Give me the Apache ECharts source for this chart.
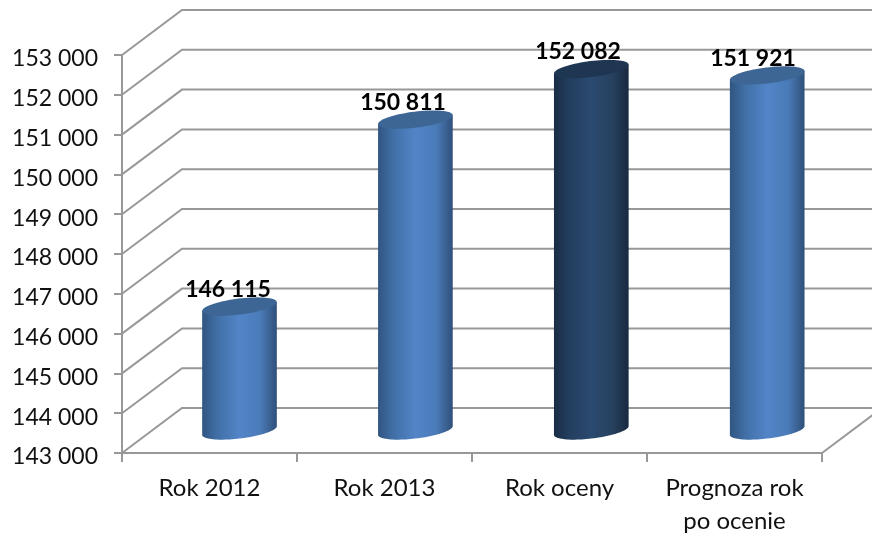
<!DOCTYPE html>
<html>
<head>
<meta charset="utf-8">
<style>html,body{margin:0;padding:0;background:#fff}#c{width:872px;height:533px}</style>
<script src="https://cdn.jsdelivr.net/npm/echarts@6/dist/echarts.min.js"></script>
</head>
<body>
<div id="c"></div>
<script>
const categories = ['Rok 2012', 'Rok 2013', 'Rok oceny', 'Prognoza rok\npo ocenie'];
const values = [146115, 150811, 152082, 151921];
const yTicks = [143000, 144000, 145000, 146000, 147000, 148000, 149000, 150000, 151000, 152000, 153000];
const darkIndex = 2;

const DEPTH_X = 60, DEPTH_Y = 45, RX = 37.6, RY = 8, TILT = -7 * Math.PI / 180, SPREAD = 0.9;
const LINE = '#989898', FONT = 'Lato';
const fmt = v => String(v).replace(/\B(?=(\d{3})+$)/g, ' ');

const blue = ['#305581', '#4271a9', '#5285c8', '#4a7bb8', '#2f5079'];
const navy = ['#192c46', '#233f60', '#2b4a70', '#27415f', '#18293f'];
const grad = c => new echarts.graphic.LinearGradient(0, 0, 1, 0, [
  {offset: 0, color: c[0]}, {offset: .22, color: c[1]}, {offset: .5, color: c[2]},
  {offset: .78, color: c[3]}, {offset: 1, color: c[4]}]);

const pt = (c, t) => [
  c[0] + RX * Math.cos(t) * Math.cos(TILT) - RY * Math.sin(t) * Math.sin(TILT),
  c[1] + RX * Math.cos(t) * Math.sin(TILT) + RY * Math.sin(t) * Math.cos(TILT)];
const T0 = Math.atan2(-RY * Math.sin(TILT), RX * Math.cos(TILT));

function renderWall(params, api) {
  const cs = params.coordSys;
  const y = api.coord([0, api.value(1)])[1];
  const isFloor = api.value(1) === yTicks[0];
  const children = [{
    type: 'polyline',
    shape: {points: [[cs.x, y], [cs.x + DEPTH_X, y - DEPTH_Y], [cs.x + cs.width + DEPTH_X, y - DEPTH_Y]]},
    style: {stroke: LINE, lineWidth: 2, fill: null}
  }];
  if (isFloor) children.push({
    type: 'line',
    shape: {x1: cs.x + cs.width, y1: y, x2: cs.x + cs.width + DEPTH_X, y2: y - DEPTH_Y},
    style: {stroke: LINE, lineWidth: 2}
  });
  return {type: 'group', children};
}

function renderCyl(params, api) {
  const idx = params.dataIndex;
  const top = api.coord([idx, api.value(1)]);
  const base = api.coord([idx, yTicks[0]]);
  const dx = DEPTH_X / 2 + SPREAD * idx;
  const ct = [top[0] + dx, top[1] - DEPTH_Y / 2];
  const cb = [base[0] + dx, base[1] - DEPTH_Y / 2];
  const dark = idx === darkIndex;
  const body = [pt(ct, T0 + Math.PI)];
  for (let i = 0; i <= 48; i++) body.push(pt(cb, T0 + Math.PI - Math.PI * i / 48));
  body.push(pt(ct, T0));
  const cap = [];
  for (let i = 0; i < 72; i++) cap.push(pt(ct, 2 * Math.PI * i / 72));
  return {type: 'group', children: [
    {type: 'polygon', shape: {points: body}, style: {fill: grad(dark ? navy : blue)}},
    {type: 'polygon', shape: {points: cap}, style: {fill: dark ? '#1f3653' : '#3d6695'}},
    {type: 'text', z2: 10, style: {
      x: top[0] + 18.5, y: ct[1] - 17, text: fmt(api.value(1)), align: 'center', verticalAlign: 'middle',
      font: 'bold 23px ' + FONT, fill: '#000'}}
  ]};
}

const chart = echarts.init(document.getElementById('c'));
chart.setOption({
  animation: false,
  backgroundColor: '#fff',
  grid: {left: 122, right: 50, top: 55, bottom: 80, containLabel: false, outerBoundsMode: 'none'},
  xAxis: {
    type: 'category', data: categories,
    axisLine: {lineStyle: {color: LINE, width: 2}},
    axisTick: {show: true, length: 9, lineStyle: {color: LINE, width: 2}},
    axisLabel: {color: '#111', fontFamily: FONT, fontSize: 24, margin: 19, lineHeight: 33, interval: 0},
    splitLine: {show: false}
  },
  yAxis: {
    type: 'value', min: yTicks[0], max: yTicks[yTicks.length - 1], interval: 1000,
    axisLine: {show: true, lineStyle: {color: LINE, width: 2}},
    axisTick: {show: true, length: 8, lineStyle: {color: LINE, width: 2}},
    axisLabel: {color: '#111', fontFamily: FONT, fontSize: 23, margin: 24, verticalAlign: 'top', lineHeight: 8, formatter: fmt},
    splitLine: {show: false}
  },
  series: [
    {type: 'custom', z: 1, clip: false, silent: true, renderItem: renderWall,
     encode: {x: 0, y: 1}, data: yTicks.map(v => [0, v])},
    {type: 'custom', z: 3, clip: false, silent: true, renderItem: renderCyl,
     encode: {x: 0, y: 1}, data: values.map((v, i) => [i, v])}
  ]
});
</script>
</body>
</html>
